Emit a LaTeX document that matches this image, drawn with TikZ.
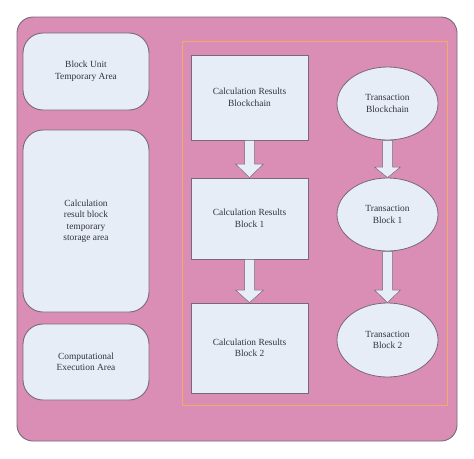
\documentclass[tikz,border=0pt]{standalone}
\usepackage{fontspec}
\setmainfont{Liberation Serif}
\usetikzlibrary{shapes.geometric,shapes.arrows}
\definecolor{pinkbg}{RGB}{218,141,181}
\definecolor{boxfill}{RGB}{231,237,246}
\definecolor{boxline}{RGB}{120,105,120}
\definecolor{orangeline}{RGB}{245,170,105}
\definecolor{txt}{RGB}{50,50,62}
\tikzset{
  area/.style={draw=boxline, line width=0.9pt, fill=boxfill, rounded corners=20pt},
  rbox/.style={draw=boxline, line width=0.8pt, fill=boxfill},
  ebox/.style={draw=boxline, line width=0.8pt, fill=boxfill, ellipse},
  lbl/.style={text=txt, font=\fontsize{9.4}{11.5}\selectfont, align=center},
  fatarrow/.style={draw=boxline, line width=0.5pt, fill=boxfill}
}
\begin{document}
\begin{tikzpicture}[x=1pt,y=-1pt]
\useasboundingbox (0,0) rectangle (474,458);
\fill[white] (0,0) rectangle (474,458);
% outer
\draw[draw=boxline, line width=0.9pt, fill=pinkbg, rounded corners=16pt] (17,17) rectangle (457,441);
% left areas
\draw[area] (23,33) rectangle (149,110);
\node[lbl] (a1) at (86,71.5) {Block Unit\\Temporary Area};
\draw[area] (23,130) rectangle (149,312);
\node[lbl] (a2) at (86,221) {Calculation\\result block\\temporary\\storage area};
\draw[area] (23,324) rectangle (149,400);
\node[lbl] (a3) at (86,362) {Computational\\Execution Area};
% orange frame
\draw[orangeline, line width=0.8pt] (182,41) rectangle (447,405);
% rectangles
\node[rbox, minimum width=117pt, minimum height=85pt, lbl] (r1) at (249.5,97.5) {Calculation Results\\Blockchain};
\node[rbox, minimum width=117pt, minimum height=81pt, lbl] (r2) at (249.5,218.5) {Calculation Results\\Block 1};
\node[rbox, minimum width=117pt, minimum height=90pt, lbl] (r3) at (249.5,348) {Calculation Results\\Block 2};
% ellipses
\node[ebox, minimum width=101pt, minimum height=73pt, inner sep=0pt, lbl] (e1) at (387.5,103.5) {Transaction\\Blockchain};
\node[ebox, minimum width=101pt, minimum height=73pt, inner sep=0pt, lbl] (e2) at (387.5,214.5) {Transaction\\Block 1};
\node[ebox, minimum width=101pt, minimum height=74pt, inner sep=0pt, lbl] (e3) at (387.5,340) {Transaction\\Block 2};
% block arrows
\draw[fatarrow] ([xshift=-5pt]r1.south) -- ([xshift=-5pt]r2.north |- 0,164) -- ([xshift=-14pt]r2.north |- 0,164) -- (r2.north) -- ([xshift=14pt]r2.north |- 0,164) -- ([xshift=5pt]r2.north |- 0,164) -- ([xshift=5pt]r1.south) -- cycle;
\draw[fatarrow] ([xshift=-5pt]r2.south) -- ([xshift=-5pt]r3.north |- 0,290) -- ([xshift=-14pt]r3.north |- 0,290) -- (r3.north) -- ([xshift=14pt]r3.north |- 0,290) -- ([xshift=5pt]r3.north |- 0,290) -- ([xshift=5pt]r2.south) -- cycle;
\draw[fatarrow] ([xshift=-5pt]e1.south) -- ([xshift=-5pt]e2.north |- 0,167) -- ([xshift=-13pt]e2.north |- 0,167) -- (e2.north) -- ([xshift=13pt]e2.north |- 0,167) -- ([xshift=5pt]e2.north |- 0,167) -- ([xshift=5pt]e1.south) -- cycle;
\draw[fatarrow] ([xshift=-5pt]e2.south) -- ([xshift=-5pt]e3.north |- 0,290) -- ([xshift=-13pt]e3.north |- 0,290) -- (e3.north) -- ([xshift=13pt]e3.north |- 0,290) -- ([xshift=5pt]e3.north |- 0,290) -- ([xshift=5pt]e2.south) -- cycle;
\end{tikzpicture}
\end{document}
